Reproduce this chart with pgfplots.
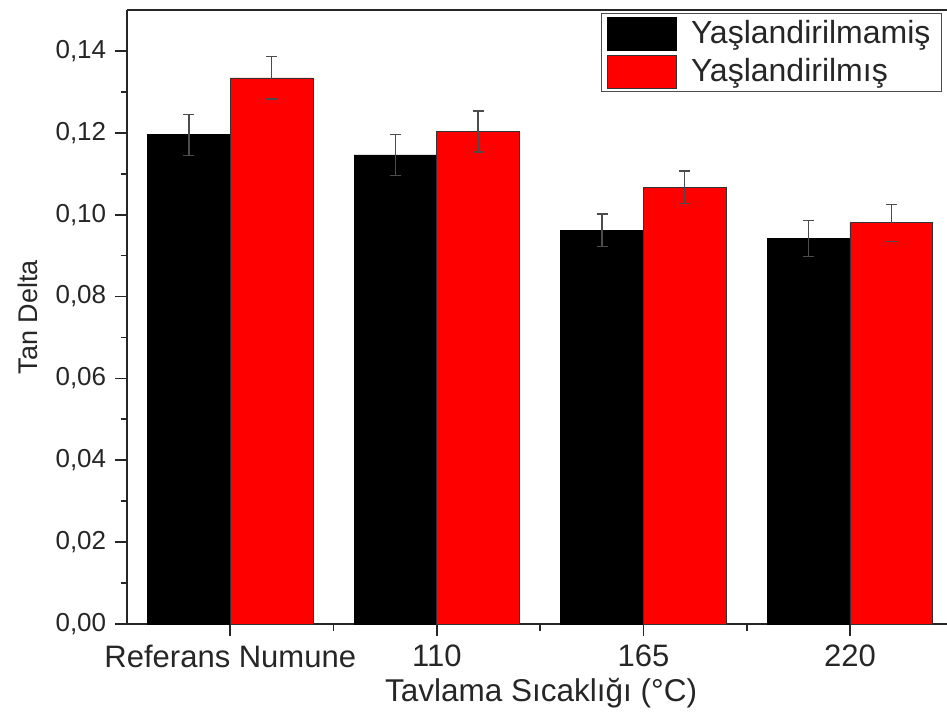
\documentclass[border=0pt]{standalone}
\usepackage{fontspec}
\setmainfont{Liberation Sans}
\usepackage{pgfplots}
\pgfplotsset{compat=1.18}
\begin{document}
\begin{tikzpicture}
\useasboundingbox (-50.8pt,-37.6pt) rectangle (328pt,249.6pt);
\begin{axis}[
  at={(0,0)}, anchor=south west,
  scale only axis, width=328pt, height=245.6pt,
  xmin=-0.5, xmax=3.47, ymin=0, ymax=0.15,
  axis x line*=box, axis y line*=left,
  axis line style={black!85, line width=0.8pt},
  xtick={0,1,2,3},
  xticklabels={Referans Numune,110,165,220},
  minor xtick={0.5,1.5,2.5},
  ytick={0,0.02,0.04,0.06,0.08,0.10,0.12,0.14},
  minor ytick={0.01,0.03,0.05,0.07,0.09,0.11,0.13},
  xtick pos=left, ytick pos=left,
  tick align=outside,
  major tick length=4.8pt, minor tick length=2.6pt,
  every tick/.style={black!85, line width=0.7pt},
  /pgf/number format/.cd, use comma, fixed, fixed zerofill, precision=2, assume math mode=true,
  /pgfplots/.cd,
  yticklabel style={font=\fontsize{10.4pt}{12pt}\selectfont, text=black!85},
  xticklabel style={font=\fontsize{12.4pt}{14pt}\selectfont, text=black!85},
  xlabel={Tavlama Sıcaklığı (°C)},
  ylabel={Tan Delta},
  every axis x label/.style={at={(axis description cs:0.505,-0.1124)}, anchor=center, font=\fontsize{12.6pt}{14pt}\selectfont, text=black!85},
  every axis y label/.style={at={(axis description cs:-0.1207,0.5)}, rotate=90, anchor=center, font=\fontsize{10.8pt}{13pt}\selectfont, text=black!85},
  legend style={at={(0.994,0.995)}, anchor=north east, draw=black!70, line width=0.5pt,
    font=\fontsize{12.8pt}{14pt}\selectfont, text=black!85, inner xsep=2.4pt, inner ysep=0.6pt,
    row sep=0.4pt},
  legend cell align=left,
  legend image code/.code={\draw[#1, line width=0.3pt] (0pt,-6.6pt) rectangle (27.6pt,6.6pt);},
  error bars/error bar style={black!70, line width=0.6pt},
  error bars/error mark options={rotate=90, mark size=2.2pt, black!70, line width=0.6pt},
]
\addplot[ybar, bar width=0.4, bar shift=0, fill=black, draw=black, line width=0.3pt,
  error bars/.cd, y dir=both, y explicit]
  coordinates {(-0.2,0.1195) +- (0,0.0050) (0.8,0.1146) +- (0,0.0050) (1.8,0.0962) +- (0,0.0040) (2.8,0.0942) +- (0,0.0044)};
\addlegendentry{\hspace{3.6pt}Yaşlandirilmamiş\hspace{1.6pt}}
\addplot[ybar, bar width=0.4, bar shift=0, fill=red, draw=black!80, line width=0.3pt,
  error bars/.cd, y dir=both, y explicit]
  coordinates {(0.2,0.1334) +- (0,0.0052) (1.2,0.1203) +- (0,0.0050) (2.2,0.1067) +- (0,0.0040) (3.2,0.0980) +- (0,0.0045)};
\addlegendentry{\hspace{3.6pt}Yaşlandirilmış}
\end{axis}
\end{tikzpicture}
\end{document}
